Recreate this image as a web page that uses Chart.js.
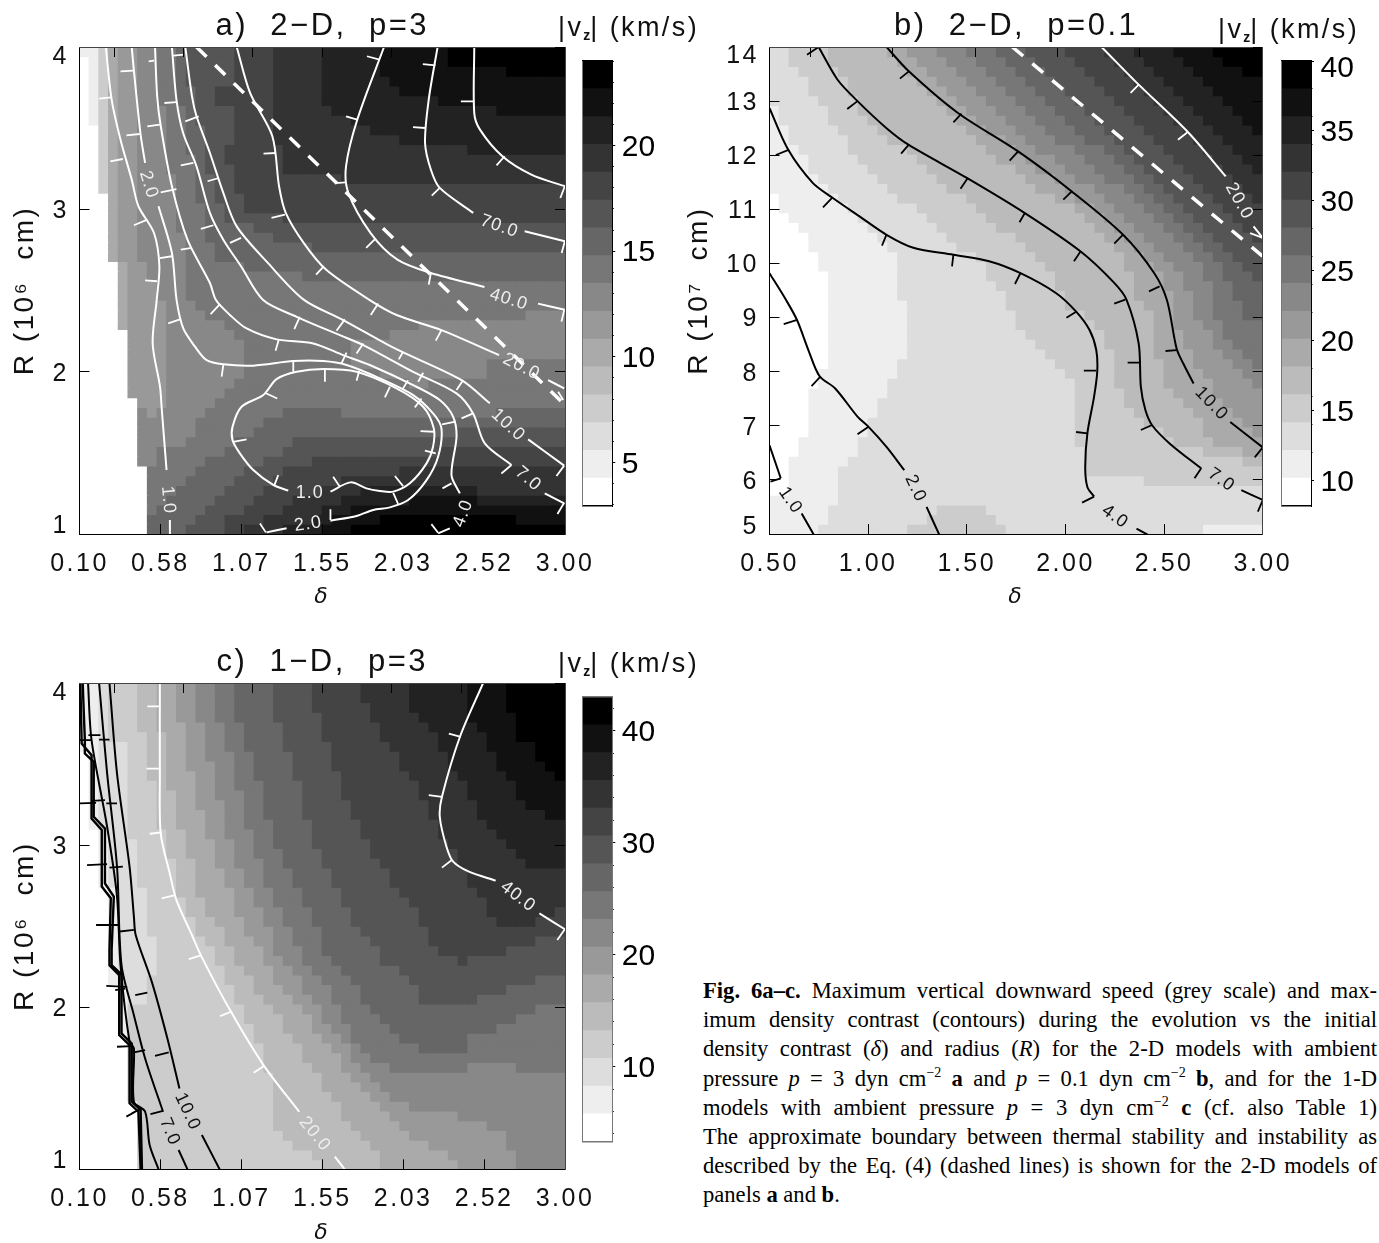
<!DOCTYPE html>
<html>
<head>
<meta charset="utf-8">
<script src="https://cdn.jsdelivr.net/npm/chart.js@4/dist/chart.umd.js"></script>
<style>
html, body { margin: 0; background: #fff; overflow: hidden; width: 1379px; height: 1243px; }
canvas { position: absolute; }
.unit { position: absolute; font: 27px "Liberation Sans"; letter-spacing: 2.4px; color: #111; white-space: pre; }
.unit sub { font-size: 14px; font-weight: bold; vertical-align: -4px; letter-spacing: 0; }
#caption { position: absolute; left: 703px; top: 976px; width: 674px; font: 22.6px/29.2px "Liberation Serif"; color: #000; }
#caption div { text-align: justify; text-align-last: justify; white-space: nowrap; height: 29.2px; }
#caption div:last-child { text-align-last: left; }
#caption sup { font-size: 14px; line-height: 0; vertical-align: 9px; }
</style>
</head>
<body>
<canvas id="panelA" width="625" height="610" style="left:0;top:0"></canvas>
<canvas id="panelB" width="643" height="610" style="left:680px;top:0"></canvas>
<canvas id="panelC" width="625" height="610" style="left:0;top:636px"></canvas>
<canvas id="barA" width="100" height="505" style="left:570px;top:31px"></canvas>
<canvas id="barB" width="109" height="505" style="left:1270px;top:31px"></canvas>
<canvas id="barC" width="100" height="505" style="left:570px;top:667px"></canvas>
<div class="unit" style="left:558px;top:12px">|v<sub>z</sub>| (km/s)</div>
<div class="unit" style="left:1218px;top:14px">|v<sub>z</sub>| (km/s)</div>
<div class="unit" style="left:558px;top:648px">|v<sub>z</sub>| (km/s)</div>
<div id="caption">
<div><b>Fig. 6a–c.</b> Maximum vertical downward speed (grey scale) and max-</div>
<div>imum density contrast (contours) during the evolution vs the initial</div>
<div>density contrast (<i>δ</i>) and radius (<i>R</i>) for the 2-D models with ambient</div>
<div>pressure <i>p</i> = 3 dyn cm<sup>−2</sup> <b>a</b> and <i>p</i> = 0.1 dyn cm<sup>−2</sup> <b>b</b>, and for the 1-D</div>
<div>models with ambient pressure <i>p</i> = 3 dyn cm<sup>−2</sup> <b>c</b> (cf. also Table 1)</div>
<div>The approximate boundary between thermal stability and instability as</div>
<div>described by the Eq. (4) (dashed lines) is shown for the 2-D models of</div>
<div>panels <b>a</b> and <b>b</b>.</div>
</div>
<script>
// grey level of every band, white (slowest) to black (fastest)
const levelGreys = [255, 238, 221, 204, 187, 170, 153, 136, 119, 102, 85, 68, 51, 34, 17, 0];

const edgesA = [2.94, 4.26, 5.57, 6.89, 8.2, 9.52, 10.84, 12.15, 13.47, 14.79, 16.1, 17.42, 18.74, 20.05, 21.37, 22.69, 24.0];
const edgesB = [8.2, 10.19, 12.18, 14.16, 16.15, 18.14, 20.13, 22.11, 24.1, 26.09, 28.08, 30.06, 32.05, 34.04, 36.03, 38.01, 40.0];
const edgesC = [3.3, 5.78, 8.26, 10.74, 13.22, 15.71, 18.19, 20.67, 23.15, 25.63, 28.11, 30.59, 33.07, 35.56, 38.04, 40.52, 43.0];
const majorsA = [5, 10, 15, 20];
const majorsB = [10, 15, 20, 25, 30, 35, 40];
const majorsC = [10, 20, 30, 40];
const minorsA = [3, 4, 5, 6, 7, 8, 9, 10, 11, 12, 13, 14, 15, 16, 17, 18, 19, 20, 21, 22, 23, 24];
const minorsB = [10, 12, 14, 16, 18, 20, 22, 24, 26, 28, 30, 32, 34, 36, 38, 40];
const minorsC = [4, 6, 8, 10, 12, 14, 16, 18, 20, 22, 24, 26, 28, 30, 32, 34, 36, 38, 40, 42];

const xTicksA = [0.1, 0.583, 1.067, 1.55, 2.033, 2.517, 3.0];
const xTicksB = [0.5, 1.0, 1.5, 2.0, 2.5, 3.0];
const yTicksA = [1, 2, 3, 4];
const yTicksB = [5, 6, 7, 8, 9, 10, 11, 12, 13, 14];

// speed bands per grid row, top row first: start column, band, start column, band...
const runsA = [
[0,1,2,3,3,5,4,6,6,7,8,8,10,9,11,10,16,11,20,12,25,13,31,14,38,15],
[1,1,2,3,3,5,4,6,6,7,8,8,10,9,11,10,16,11,20,12,25,13,31,14,38,15],
[1,1,2,3,3,5,4,6,6,7,8,8,10,9,11,10,16,11,20,12,25,13,31,14,44,15],
[1,1,2,3,3,5,4,6,6,7,8,8,10,9,11,10,16,11,20,12,25,13,32,14],
[1,1,2,3,3,5,4,6,6,7,8,8,10,9,12,10,14,11,20,12,25,13,33,14],
[1,1,2,3,3,5,4,6,6,7,8,8,10,9,12,10,14,11,20,12,25,13,37,14],
[1,1,2,3,3,5,4,6,6,7,9,8,11,9,12,10,16,11,20,12,26,13,43,14],
[1,1,2,3,3,5,4,6,6,7,9,8,11,9,12,10,16,11,20,12,28,13],
[2,3,3,5,4,6,6,7,9,8,11,9,13,10,16,11,20,12,30,13],
[2,3,3,5,4,6,6,7,9,8,11,9,13,10,16,11,20,12,33,13],
[2,3,3,5,4,6,6,7,9,8,11,9,13,10,15,11,21,12,40,13],
[2,3,3,5,4,6,6,7,9,8,12,9,13,10,15,11,21,12],
[2,3,3,5,4,6,6,7,9,8,12,9,13,10,16,11,21,12],
[2,3,3,5,4,6,6,7,10,8,12,9,14,10,16,11,27,12],
[2,3,3,5,4,6,6,7,10,8,12,9,14,10,16,11],
[3,5,4,6,6,7,10,8,12,9,14,10,17,11],
[3,5,4,6,6,7,10,8,13,9,15,10,17,11],
[3,5,4,6,6,7,10,8,13,9,15,10,21,11],
[3,5,4,6,6,7,10,8,13,9,18,10],
[3,5,4,6,6,7,11,8,13,9,20,10],
[3,5,4,6,6,7,11,8,14,9,24,10],
[3,5,4,6,6,7,11,8,14,9],
[4,5,5,6,7,7,11,8,17,9],
[4,5,5,6,7,7,11,8,23,9],
[4,5,5,6,8,7,11,8],
[4,5,5,6,8,7,11,8],
[4,5,5,6,9,7,12,8],
[4,5,5,6,9,7,13,8,46,7],
[4,5,5,6,9,7,15,8,35,7],
[5,6,9,7,16,8,32,7],
[5,6,9,7,17,8,28,7],
[5,6,9,7,17,8,28,7],
[5,6,9,7,17,8,28,7,42,8],
[5,6,9,7,17,8,31,7,42,8],
[5,6,9,7,16,8,34,7,36,8],
[5,6,9,7,15,8],
[6,6,9,7,14,8],
[6,7,7,6,8,7,13,8,21,9,27,8,43,9],
[6,7,12,8,19,9],
[6,7,12,8,18,9,39,10],
[6,7,11,8,16,9,22,10],
[6,7,8,8,15,9,21,10,37,11],
[6,7,8,8,13,9,19,10,24,11],
[7,8,12,9,17,10,21,11,33,12],
[7,8,11,9,16,10,20,11,27,12],
[7,8,10,9,15,10,19,11,25,12,29,13,41,12],
[7,8,9,9,14,10,18,11,22,12,27,13,34,14,41,13],
[7,8,8,9,13,10,17,11,21,12,25,13,28,14],
[7,9,12,10,15,11,19,12,24,13,26,14,31,15,45,14],
[7,9,11,10,15,11,17,12,21,13,25,14,28,15]
];

const runsB = [
[0,2,2,3,6,4,12,5,14,6,17,7,20,8,23,9,26,10,30,11,34,12,37,13,41,14,45,15],
[0,2,2,3,6,4,13,5,15,6,18,7,21,8,24,9,27,10,31,11,35,12,38,13,42,14,46,15],
[0,2,3,3,7,4,14,5,16,6,19,7,22,8,25,9,28,10,32,11,36,12,39,13,43,14,48,15],
[0,2,4,3,8,4,15,5,17,6,20,7,23,8,26,9,29,10,33,11,37,12,40,13,44,14],
[0,2,4,3,8,4,16,5,18,6,21,7,24,8,27,9,30,10,34,11,38,12,41,13,45,14],
[0,2,5,3,9,4,17,5,19,6,22,7,25,8,28,9,31,10,35,11,39,12,42,13,46,14],
[0,1,1,2,6,3,9,4,18,5,20,6,23,7,26,8,29,9,32,10,36,11,40,12,43,13,47,14],
[0,1,1,2,6,3,10,4,19,5,21,6,24,7,27,8,30,9,33,10,37,11,41,12,44,13,48,14],
[0,1,2,2,7,3,11,4,20,5,22,6,25,7,28,8,31,9,34,10,38,11,42,12,45,13,49,14],
[0,1,2,2,8,3,12,4,21,5,24,6,26,7,29,8,32,9,35,10,39,11,43,12,46,13],
[0,1,3,2,8,3,14,4,22,5,25,6,27,7,31,8,34,9,36,10,40,11,44,12,47,13],
[0,1,4,2,9,3,15,4,23,5,26,6,29,7,32,8,35,9,37,10,41,11,45,12,48,13],
[0,1,4,2,10,3,16,4,25,5,27,6,30,7,33,8,36,9,38,10,42,11,46,12,49,13],
[0,1,5,2,11,3,17,4,26,5,29,6,31,7,34,8,37,9,39,10,43,11,47,12],
[0,1,6,2,12,3,18,4,27,5,30,6,33,7,36,8,38,9,40,10,44,11,48,12],
[0,0,1,1,7,2,13,3,20,4,29,5,31,6,34,7,37,8,39,9,41,10,45,11,49,12],
[0,0,1,1,8,2,15,3,21,4,31,5,33,6,35,7,38,8,40,9,42,10,46,11],
[0,0,2,1,9,2,16,3,22,4,32,5,34,6,36,7,39,8,41,9,43,10,47,11],
[0,0,3,1,10,2,17,3,23,4,33,5,35,6,37,7,40,8,42,9,44,10,48,11],
[0,0,4,1,11,2,18,3,25,4,34,5,36,6,38,7,41,8,43,9,45,10,49,11],
[0,0,4,1,12,2,19,3,26,4,35,5,37,6,39,7,42,8,44,9,46,10],
[0,0,5,1,13,2,21,3,27,4,36,5,38,6,40,7,43,8,45,9,47,10],
[0,0,5,1,13,2,22,3,28,4,36,5,39,6,41,7,44,8,46,9,48,10],
[0,0,6,1,13,2,22,3,29,4,37,5,40,6,42,7,44,8,46,9,49,10],
[0,0,6,1,13,2,23,3,29,4,37,5,40,6,42,7,45,8,47,9],
[0,0,6,1,13,2,24,3,30,4,37,5,41,6,43,7,45,8,47,9],
[0,0,6,1,14,2,24,3,30,4,38,5,41,6,43,7,45,8,48,9],
[0,0,6,1,14,2,25,3,32,4,39,5,41,6,43,7,45,8,48,9],
[0,0,6,1,14,2,25,3,33,4,39,5,41,6,44,7,46,8],
[0,0,6,1,14,2,26,3,34,4,39,5,42,6,45,7,46,8],
[0,0,6,1,14,2,27,3,34,4,39,5,42,6,45,7,47,8],
[0,0,6,1,14,2,28,3,35,4,39,5,43,6,46,7,48,8],
[0,0,6,1,13,2,29,3,35,4,40,5,43,6,47,7,49,8],
[0,0,5,1,13,2,30,3,35,4,40,5,44,6,48,7],
[0,0,5,1,12,2,31,3,35,4,40,5,45,6,49,7],
[0,0,4,1,12,2,31,3,36,4,41,5,45,6],
[0,0,4,1,11,2,31,3,36,4,42,5,46,6],
[0,0,4,1,11,2,31,3,37,4,43,5,47,6],
[0,0,4,1,10,2,31,3,38,4,44,5,48,6],
[0,0,4,1,10,2,31,3,40,4,44,5,49,6],
[0,0,3,1,9,2,31,3,41,4,45,5],
[0,0,3,1,9,2,32,3,44,4,48,5],
[0,0,2,1,8,2,32,3,48,4],
[0,0,2,1,7,2,32,3],
[0,0,2,1,7,2,38,3],
[0,0,2,1,7,2],
[0,1,7,2],
[0,1,6,2,17,3,22,2],
[0,1,6,2,16,3,23,2],
[0,1,5,2,14,3,24,2,44,1]
];

const runsC = [
[0,1,2,2,3,3,6,4,8,5,10,6,12,7,14,8,16,9,20,10,24,11,29,12,34,13,40,14,44,15],
[0,1,2,2,3,3,6,4,8,5,10,6,12,7,14,8,16,9,20,10,24,11,29,12,34,13,40,14,44,15],
[0,1,2,2,3,3,6,4,8,5,10,6,12,7,14,8,16,9,20,10,24,11,30,12,34,13,40,14,44,15],
[0,1,2,2,3,3,6,4,8,5,10,6,12,7,14,8,16,9,20,10,25,11,30,12,35,13,40,14,45,15],
[0,1,2,2,3,3,6,4,8,5,11,6,13,7,15,8,17,9,21,10,25,11,31,12,36,13,41,14,45,15],
[0,1,2,2,3,3,7,4,9,5,11,6,13,7,15,8,17,9,21,10,25,11,31,12,37,13,42,14,45,15],
[0,1,2,2,5,3,7,4,9,5,11,6,13,7,15,8,17,9,21,10,26,11,32,12,37,13,42,14,47,15],
[0,0,1,1,2,2,5,3,7,4,9,5,11,6,13,7,16,8,18,9,22,10,26,11,33,12,38,13,43,14,47,15],
[0,0,1,1,2,2,5,3,7,4,9,5,11,6,14,7,16,8,18,9,22,10,26,11,33,12,38,13,43,14,48,15],
[0,0,1,1,2,2,5,3,7,4,9,5,12,6,14,7,16,8,18,9,22,10,27,11,34,12,39,13,44,14,49,15],
[0,0,1,1,2,2,5,3,8,4,9,5,12,6,14,7,16,8,19,9,23,10,27,11,35,12,40,13,45,14],
[0,0,1,1,2,2,5,3,8,4,10,5,12,6,14,7,17,8,19,9,23,10,27,11,35,12,40,13,45,14],
[0,0,1,1,2,2,5,3,8,4,10,5,12,6,15,7,17,8,19,9,23,10,28,11,36,12,41,13,46,14],
[0,0,1,1,2,2,5,3,8,4,10,5,13,6,15,7,17,8,19,9,23,10,28,11,36,12,41,13,48,14],
[0,0,1,1,2,2,5,3,8,4,10,5,13,6,15,7,17,8,20,9,24,10,29,11,37,12,42,13],
[0,0,2,1,3,2,5,3,9,4,11,5,13,6,15,7,18,8,20,9,24,10,29,11,37,12,43,13],
[0,0,2,1,3,2,6,3,9,4,11,5,14,6,16,7,18,8,20,9,24,10,30,11,38,12,44,13],
[0,0,2,1,3,2,6,3,9,4,11,5,14,6,16,7,18,8,21,9,25,10,30,11,39,12,45,13],
[0,0,2,1,3,2,6,3,10,4,12,5,14,6,16,7,19,8,21,9,25,10,31,11,39,12,46,13],
[0,0,2,1,3,2,6,3,10,4,12,5,15,6,17,7,19,8,22,9,26,10,32,11,40,12],
[0,0,2,1,3,2,6,3,10,4,12,5,15,6,17,7,19,8,22,9,26,10,32,11,40,12],
[0,0,3,1,4,2,7,3,10,4,12,5,16,6,18,7,20,8,23,9,27,10,33,11,41,12],
[0,0,3,1,4,2,7,3,11,4,13,5,16,6,18,7,20,8,23,9,27,10,34,11,42,12],
[0,0,3,1,4,2,7,3,11,4,13,5,16,6,19,7,21,8,24,9,28,10,35,11,42,12,49,11],
[0,0,3,1,4,2,7,3,12,4,14,5,17,6,19,7,21,8,24,9,28,10,35,11,43,12,47,11],
[0,0,3,1,4,2,7,3,12,4,15,5,17,6,20,7,22,8,25,9,29,10,36,11],
[0,0,3,1,4,2,8,3,13,4,15,5,18,6,20,7,22,8,25,9,30,10,36,11,47,10],
[0,0,3,1,4,2,8,3,14,4,16,5,19,6,20,7,23,8,25,9,31,10,37,11,44,10],
[0,0,3,1,4,2,8,3,14,4,16,5,19,6,21,7,23,8,26,9,31,10,39,11,40,10],
[0,0,3,1,4,2,8,3,15,4,17,5,20,6,22,7,24,8,27,9,33,10],
[0,0,3,1,4,2,7,3,15,4,18,5,20,6,23,7,25,8,28,9,34,10,47,9],
[0,0,4,1,5,2,7,3,16,4,18,5,21,6,23,7,26,8,29,9,35,10,44,9],
[0,0,4,1,5,2,7,3,16,4,19,5,22,6,24,7,26,8,29,9,35,10,41,9],
[0,0,4,1,5,3,17,4,20,5,23,6,25,7,27,8,30,9,47,8],
[0,0,4,1,5,3,17,4,21,5,24,6,25,7,27,8,31,9,45,8],
[0,0,4,1,5,3,18,4,21,5,24,6,26,7,28,8,32,9,43,8],
[0,0,5,3,18,4,22,5,25,6,27,7,28,8,33,9,40,8],
[0,0,5,3,19,4,23,5,26,6,28,7,29,8,35,9,40,8],
[0,0,5,3,19,4,23,5,27,6,28,7,30,8],
[0,0,5,3,19,4,24,5,27,6,29,7,32,8,40,7,45,8],
[0,0,5,3,20,4,25,5,28,6,30,7],
[0,0,5,3,20,4,25,5,29,6,31,7],
[0,0,5,3,20,4,26,5,30,6,32,7],
[0,0,6,3,20,4,27,5,31,6,34,7],
[0,0,6,3,20,4,27,5,32,6,39,7],
[0,0,6,3,20,4,28,5,33,6,42,7],
[0,0,6,3,21,4,29,5,34,6,44,7],
[0,0,6,3,22,4,30,5,36,6,44,7],
[0,0,6,3,24,4,31,5,38,6,45,7],
[0,0,6,3,25,4,31,5,39,6,45,7]
];

// density contrast contours: [delta, R], null marks the gap left for a label
const a100 = [[2.458,4],[2.458,3.593],[2.492,3.491],[2.626,3.327],[2.799,3.214],[2.999,3.142]];
const a70 = [[2.239,4],[2.186,3.676],[2.164,3.409],[2.199,3.244],[2.252,3.132],[2.452,2.978],null,[2.759,2.865],[2.999,2.803]];
const a40 = [[1.919,4],[1.759,3.552],[1.692,3.265],[1.706,3.101],[1.839,2.854],[1.999,2.69],[2.199,2.608],[2.519,2.522],null,[2.839,2.419],[2.999,2.382]];
const a20 = [[1.039,4],[1.119,3.717],[1.252,3.45],[1.292,3.142],[1.332,2.978],[1.439,2.793],[1.572,2.629],[1.834,2.441],[1.994,2.349],[2.262,2.256],[2.606,2.102],null,[2.899,1.948],[2.995,1.897]];
const a10 = [[0.732,4],[0.772,3.696],[0.799,3.573],[0.879,3.347],[0.959,3.101],[1.039,2.895],[1.225,2.67],[1.439,2.444],[1.675,2.318],[1.984,2.143],[2.382,1.948],[2.551,1.805],null,[2.78,1.583],[2.995,1.421]];
const a7 = [[0.652,4],[0.679,3.676],[0.719,3.47],[0.799,3.265],[0.879,2.978],[0.959,2.813],[1.065,2.649],[1.197,2.441],[1.397,2.338],[1.655,2.225],[1.795,2.164],[2.093,1.999],[2.352,1.866],[2.451,1.743],[2.521,1.558],[2.68,1.425],null,[2.879,1.25],[2.995,1.189]];
const a4 = [[0.551,4],[0.564,3.696],[0.585,3.515],[0.652,3.142],[0.745,2.813],[0.879,2.546],[0.915,2.441],[0.999,2.349],[1.098,2.266],[1.277,2.199],[1.496,2.174],[1.675,2.102],[1.834,2.041],[2.093,1.917],[2.252,1.825],[2.332,1.722],[2.352,1.599],[2.322,1.363],[2.372,1.25],null,[2.312,1.035],[2.242,1.004]];
const a2 = [[0.412,4],[0.425,3.854],[0.465,3.46],[0.492,3.286],null,[0.572,3.019],[0.652,2.731],[0.68,2.441],[0.72,2.266],[0.79,2.154],[0.859,2.071],[0.959,2.045],[1.138,2.037],[1.377,2.065],[1.556,2.065],[1.695,2.041],[1.894,1.959],[2.093,1.856],[2.212,1.743],[2.262,1.651],[2.242,1.476],[2.173,1.332],[2.063,1.209],[1.954,1.164],[1.854,1.148],[1.755,1.111],[1.599,1.082],null,[1.337,1.035],[1.217,1.01]];
const a1Left = [[0.257,4],[0.292,3.676],[0.345,3.429],[0.412,3.183],[0.452,3.019],[0.545,2.854],[0.577,2.649],[0.561,2.441],[0.537,2.174],[0.581,1.907],[0.591,1.774],[0.62,1.394],null,[0.64,1.086],[0.64,1]];
const a1Loop = [[1.347,1.267],[1.257,1.302],[1.138,1.394],[1.058,1.497],[1.014,1.579],[1.014,1.661],[1.068,1.784],[1.198,1.856],[1.277,1.954],[1.397,1.999],[1.556,2.016],[1.755,1.999],[1.994,1.897],[2.153,1.784],[2.216,1.651],[2.212,1.538],[2.173,1.435],[2.073,1.312],[1.974,1.261],[1.894,1.265],[1.814,1.281],[1.719,1.318],[1.599,1.261]];
const aDashed = [[0.799,4],[2.989,1.805]];

const b20 = [[2.183,14],[2.371,13.304],[2.62,12.429],[2.812,11.61],null,[2.953,10.686],[3,10.47]];
const bDashed = [[1.731,14],[3,10.13]];
const b10 = [[1.093,14],[1.206,13.55],[1.455,12.78],[1.76,12.07],[2.032,11.33],[2.292,10.53],[2.45,9.82],[2.514,9.324],[2.563,8.43],[2.597,8.15],[2.649,7.78],null,[2.835,7.07],[3,6.6]];
const b7 = [[0.749,14],[0.844,13.4],[0.946,13],[1.093,12.5],[1.206,12.19],[1.5,11.58],[1.794,10.93],[2.077,10.22],[2.247,9.64],[2.31,9.324],[2.371,8.52],[2.382,7.72],[2.405,7.29],[2.439,7.01],[2.529,6.67],[2.688,6.21],null,[2.891,5.81],[3,5.63]];
const b4 = [[0.5,12.87],[0.595,12.1],[0.719,11.49],[0.821,11.21],[0.956,10.87],[1.093,10.53],[1.229,10.29],[1.432,10.16],[1.613,10.04],[1.772,9.82],[1.953,9.45],[2.054,9.11],[2.122,8.77],[2.156,8.4],[2.161,8],[2.145,7.54],[2.111,6.86],[2.1,6.24],[2.111,5.87],[2.145,5.69],null,[2.36,5.1],[2.416,4.99]];
const b2 = [[0.5,9.82],[0.584,9.324],[0.64,8.95],[0.697,8.4],[0.753,7.92],[0.833,7.69],[0.946,7.17],[1.002,6.98],[1.093,6.61],[1.183,6.18],null,[1.296,5.5],[1.36,4.99]];
const b1 = [[0.5,6.64],[0.557,6.03],null,[0.663,5.38],[0.724,4.99]];

const c40 = [[2.511,4],[2.372,3.667],[2.265,3.298],[2.252,3.175],[2.292,2.99],[2.332,2.898],[2.426,2.836],[2.586,2.781],null,[2.847,2.579],[2.999,2.481]];
const c20 = [[0.58,4],[0.58,3.442],[0.585,3.072],[0.639,2.826],[0.679,2.661],[0.772,2.444],[0.825,2.32],[0.999,1.982],[1.199,1.643],[1.412,1.355],null,[1.625,1.078],[1.684,1]];
const c10 = [[0.279,4],[0.324,3.442],[0.399,2.867],[0.425,2.559],[0.436,2.444],[0.532,2.156],[0.625,1.807],[0.697,1.499],null,[0.831,1.212],[0.937,1]];
const c7 = [[0.217,4],[0.265,3.442],[0.324,2.867],[0.351,2.259],[0.425,1.951],[0.492,1.684],[0.599,1.355],null,[0.692,1.119],[0.745,1]];
const c4 = [[0.151,4],[0.172,3.647],[0.265,3.113],[0.324,2.682],[0.345,2.259],[0.399,1.786],[0.425,1.746],[0.425,1.417],[0.492,1.355],[0.519,1.15],[0.572,1]];
const c2 = [[0.119,4],[0.132,3.647],[0.132,3.565],[0.185,3.514],[0.185,3.175],[0.252,3.103],[0.252,2.764],[0.305,2.682],[0.292,2.354],[0.292,2.259],[0.351,2.201],[0.351,1.838],[0.412,1.776],[0.412,1.417],[0.465,1.366],[0.473,1]];
const c1 = [[0.105,4],[0.113,3.626],[0.172,3.554],[0.172,3.164],[0.233,3.093],[0.233,2.744],[0.287,2.672],[0.279,2.354],[0.279,2.259],[0.337,2.197],[0.337,1.828],[0.399,1.766],[0.399,1.407],[0.452,1.355],[0.465,1]];

// downhill ticks on the contours: x1, y1, x2, y2
const ticksA = [
[0.292,3.69,0.217,3.682],[0.359,3.31,0.284,3.296],[0.505,2.937,0.425,2.902],[0.652,2.711,0.58,2.7],[0.564,2.557,0.492,2.563],
[0.42,3.854,0.345,3.85],[0.46,3.464,0.38,3.456],[0.679,3.125,0.585,3.105],[0.545,3.916,0.513,3.912],[0.66,3.947,0.724,3.953],
[0.607,3.655,0.679,3.661],[0.505,3.511,0.58,3.522],[0.732,3.542,0.812,3.573],[0.705,3.271,0.78,3.286],[0.865,3.173,0.932,3.193],
[0.825,2.879,0.9,2.902],[0.705,2.752,0.772,2.762],[0.999,2.793,1.065,2.824],[1.273,3.347,1.199,3.343],[1.247,2.947,1.327,2.967],
[1.625,3.162,1.692,3.166],[1.759,3.552,1.692,3.573],[1.865,2.817,1.812,2.762],[1.559,2.649,1.513,2.598],[2.199,2.608,2.186,2.536],
[1.892,3.922,1.817,3.943],[2.226,3.887,2.151,3.895],[2.164,3.501,2.092,3.507],[2.252,3.132,2.204,3.084],[2.458,3.665,2.378,3.665],
[2.639,3.327,2.591,3.271],[2.999,3.142,2.972,3.07],[2.999,2.803,2.98,2.731],
[0.939,2.416,0.883,2.355],[0.7,2.322,0.63,2.297],[1.416,2.338,1.383,2.262],[1.685,2.322,1.635,2.252],[1.884,2.42,1.84,2.349],
[2.262,2.256,2.228,2.191],[1.291,2.199,1.271,2.129],[1.795,2.174,1.755,2.112],[2.033,2.123,2.007,2.076],[1.695,2.117,1.665,2.051],
[2.153,1.993,2.123,1.938],[2.392,1.948,2.352,1.887],[2.063,1.948,2.029,1.891],[0.959,2.041,0.949,1.969],[1.377,2.065,1.377,1.999],
[1.566,2.016,1.566,1.938],[1.771,2.006,1.755,1.944],[1.954,1.907,1.924,1.841],[2.143,1.835,2.103,1.78],[1.207,1.87,1.281,1.835],
[2.451,1.743,2.382,1.712],[2.346,1.692,2.266,1.675],[2.216,1.63,2.137,1.634],[1.018,1.568,1.098,1.583],[2.228,1.497,2.163,1.513],
[2.68,1.425,2.62,1.373],[2.322,1.312,2.268,1.281],[1.287,1.363,1.263,1.298],[1.984,1.357,2.033,1.295],[1.615,1.353,1.655,1.291],
[1.974,1.254,2.003,1.185],[1.599,1.152,1.599,1.086],[1.178,1.065,1.213,1.01],[2.202,1.061,2.242,1.008],[2.995,1.421,2.949,1.357],
[2.995,1.193,2.955,1.123],[2.995,2.379,2.979,2.308],[2.959,1.876,2.989,1.825]
];
const ticksBWhite = [[2.371,13.304,2.33,13.15],[2.62,12.429,2.57,12.287],[3,10.47,2.936,10.56]];
const ticksBBlack = [
[0.749,14,0.69,13.858],[1.206,13.55,1.161,13.415],[0.946,13,0.894,12.854],[1.473,12.768,1.432,12.608],[0.6,12.103,0.532,12.004],
[1.206,12.195,1.167,12.029],[1.76,12.072,1.717,11.899],[1.505,11.579,1.468,11.382],[2.032,11.333,1.989,11.179],[0.817,11.21,0.771,11.037],
[1.794,10.932,1.767,10.76],[1.093,10.532,1.07,10.329],[2.292,10.532,2.247,10.366],[1.432,10.162,1.425,9.947],[2.077,10.224,2.043,10.039],
[1.772,9.823,1.744,9.62],[2.477,9.577,2.423,9.485],[2.303,9.33,2.247,9.257],[2.054,9.108,2.005,8.998],[0.636,8.954,0.572,8.88],
[2.563,8.4,2.507,8.382],[2.378,8.166,2.315,8.166],[2.156,8.018,2.093,8.018],[0.758,7.907,0.713,7.735],[2.439,7.014,2.382,6.922],
[1.002,6.983,0.946,6.842],[2.111,6.86,2.054,6.885],[3,6.601,2.959,6.417],[2.688,6.213,2.654,6.028],[0.557,6.028,0.505,5.967],
[2.145,5.69,2.084,5.579],[3,5.628,2.975,5.412]
];
const ticksCWhite = [
[0.58,3.856,0.505,3.856],[0.58,3.472,0.5,3.472],[0.591,3.078,0.519,3.07],[0.671,2.692,0.591,2.672],[2.378,3.667,2.306,3.688],
[2.265,3.298,2.186,3.308],[2.324,2.908,2.265,2.861],[2.999,2.481,2.954,2.415],[0.825,2.32,0.753,2.296],[1.012,1.975,0.94,1.945],
[1.204,1.639,1.14,1.596]
];
const ticksCBlack = [
[0.279,3.651,0.217,3.651],[0.225,3.678,0.153,3.678],[0.172,3.647,0.1,3.647],[0.324,3.257,0.26,3.257],[0.252,3.277,0.172,3.273],
[0.199,3.261,0.1,3.257],[0.359,2.867,0.279,2.861],[0.265,2.883,0.145,2.877],[0.425,2.477,0.34,2.467],[0.332,2.507,0.199,2.507],
[0.505,2.09,0.433,2.074],[0.385,2.125,0.26,2.132],[0.372,2.115,0.313,2.105],[0.633,1.721,0.551,1.7],[0.492,1.735,0.425,1.721],
[0.412,1.76,0.324,1.756],[0.599,1.36,0.524,1.341],[0.473,1.376,0.412,1.345],[0.452,1.366,0.38,1.325]
];

// contour labels: x, y, text, angle in degrees, colour
const labelsA = [
[0.513,3.152,'2.0',73,'#eee'],[2.607,2.895,'70.0',19,'#eee'],[2.665,2.444,'40.0',17,'#eee'],[2.74,2.03,'20.0',27,'#eee'],
[2.66,1.671,'10.0',43,'#eee'],[2.78,1.339,'7.0',40,'#eee'],[2.392,1.127,'4.0',-70,'#eee'],[1.466,1.061,'2.0',-8,'#eee'],
[1.476,1.25,'1.0',0,'#eee'],[0.63,1.209,'1.0',85,'#eee']
];
const labelsB = [
[2.88,11.15,'20.0',61,'#eee'],[2.74,7.41,'10.0',46,'#111'],[2.79,5.997,'7.0',35,'#111'],[2.251,5.32,'4.0',35,'#111'],
[1.24,5.84,'2.0',65,'#111'],[0.606,5.62,'1.0',55,'#111']
];
const labelsC = [
[2.719,2.682,'40.0',37,'#eee'],[1.505,1.218,'20.0',51,'#eee'],[0.745,1.356,'10.0',65,'#111'],[0.639,1.232,'7.0',67,'#111']
];

function greyOf(level) {
    const g = levelGreys[level];
    return 'rgb(' + g + ',' + g + ',' + g + ')';
}

function expandRuns(run) {
    const levels = new Array(50).fill(0);
    for (let i = 0; i < run.length; i += 2) {
        const end = i + 2 < run.length ? run[i + 2] : 50;
        for (let c = run[i]; c < end; c++) levels[c] = run[i + 1];
    }
    return levels;
}

function toPoints(list) {
    return list.map(p => p ? {x: p[0], y: p[1]} : {x: NaN, y: NaN});
}

function tickPoints(list) {
    const pts = [];
    list.forEach(t => pts.push({x: t[0], y: t[1]}, {x: t[2], y: t[3]}, {x: NaN, y: NaN}));
    return pts;
}

// y tick labels sit a few pixels off their ticks, most of all at the ends
function nudgeLabels(scale, nudge, other) {
    const items = scale.getLabelItems();
    items.forEach((item, i) => {
        const off = nudge[scale.ticks[i].value];
        item.options.translation[1] += off !== undefined ? off : other;
    });
}

function buildPanel(id, p) {
    const rowH = (p.yMax - p.yMin) / 50;
    const colW = (p.xMax - p.xMin) / 50;
    const datasets = [];

    p.runs.forEach((run, r) => {
        const levels = expandRuns(run);
        datasets.push({
            type: 'bar',
            data: levels.map((l, c) => ({
                x: p.xMin + (c + 0.5) * colW,
                y: [p.yMax - (r + 1) * rowH, p.yMax - r * rowH]
            })),
            backgroundColor: levels.map(greyOf),
            grouped: false,
            barPercentage: 1,
            categoryPercentage: 1,
            borderWidth: 0,
            inflateAmount: 0.6,
            order: 5
        });
    });

    p.lines.forEach(l => {
        datasets.push({
            type: 'line',
            data: toPoints(l.pts),
            borderColor: l.color,
            borderWidth: l.width || 2,
            borderDash: l.dash || [],
            pointRadius: 0,
            tension: l.tension === undefined ? 0.3 : l.tension,
            order: 1
        });
    });
    p.ticks.forEach(t => {
        datasets.push({
            type: 'line',
            data: tickPoints(t.list),
            borderColor: t.color,
            borderWidth: 1.8,
            pointRadius: 0,
            tension: 0,
            order: 1
        });
    });

    const tickFont = {family: 'Liberation Sans', size: 25};
    const setTicks = values => scale => { scale.ticks = values.map(v => ({value: v})); };
    const boxGrid = {drawOnChartArea: false, tickLength: -10, color: '#000', z: 1, offset: false};
    const boxBorder = {color: '#000', z: 1};

    const extras = {
        id: 'panelExtras',
        beforeDraw(chart) {
            chart.ctx.letterSpacing = '2.5px';
            nudgeLabels(chart.scales.y, p.nudge, 2);
        },
        afterDatasetsDraw(chart) {
            const ctx = chart.ctx;
            ctx.save();
            ctx.font = '18px "Liberation Sans"';
            ctx.letterSpacing = '1px';
            ctx.textAlign = 'center';
            ctx.textBaseline = 'middle';
            p.labels.forEach(l => {
                ctx.save();
                ctx.translate(chart.scales.x.getPixelForValue(l[0]), chart.scales.y.getPixelForValue(l[1]));
                ctx.rotate(l[3] * Math.PI / 180);
                ctx.fillStyle = l[4];
                ctx.fillText(l[2], 0, 0);
                ctx.restore();
            });
            ctx.restore();
        }
    };

    return new Chart(document.getElementById(id), {
        type: 'bar',
        data: {datasets: datasets},
        plugins: [extras],
        options: {
            responsive: false,
            animation: false,
            events: [],
            layout: {padding: {left: 0, top: 0, bottom: 0, right: p.padRight}},
            plugins: {
                legend: {display: false},
                tooltip: {enabled: false},
                title: {
                    display: true,
                    text: p.title,
                    fullSize: false,
                    color: '#111',
                    font: {family: 'Liberation Sans', size: 31, weight: 'normal'},
                    padding: {top: 8, bottom: 1.8}
                }
            },
            scales: {
                x: {
                    type: 'linear',
                    position: 'bottom',
                    min: p.xMin,
                    max: p.xMax,
                    offset: false,
                    afterBuildTicks: setTicks(p.xTicks),
                    afterFit: s => { s.height = p.xAxisHeight; },
                    ticks: {
                        font: tickFont,
                        color: '#111',
                        padding: 25,
                        maxRotation: 0,
                        autoSkip: false,
                        callback: v => v.toFixed(2)
                    },
                    grid: boxGrid,
                    border: boxBorder,
                    title: {display: true, text: 'δ', color: '#111', font: {family: 'DejaVu Sans', size: 22, style: 'italic'}, padding: 0}
                },
                y: {
                    type: 'linear',
                    position: 'left',
                    min: p.yMin,
                    max: p.yMax,
                    afterBuildTicks: setTicks(p.yTicks),
                    afterFit: s => { s.width = p.yAxisWidth; },
                    ticks: {
                        font: tickFont,
                        color: '#111',
                        padding: 20.5,
                        autoSkip: false,
                        callback: v => String(v)
                    },
                    grid: boxGrid,
                    border: boxBorder,
                    title: {display: true, text: p.yTitle, color: '#111', font: {family: 'Liberation Sans', size: 28}, padding: {top: p.yTitlePad, bottom: 0}}
                },
                xTop: {
                    type: 'linear',
                    position: 'top',
                    min: p.xMin,
                    max: p.xMax,
                    afterBuildTicks: setTicks(p.xTicks),
                    afterFit: s => { s.height = 0; },
                    ticks: {display: false},
                    grid: boxGrid,
                    border: {color: '#444', z: 1}
                },
                yRight: {
                    type: 'linear',
                    position: 'right',
                    min: p.yMin,
                    max: p.yMax,
                    afterBuildTicks: setTicks(p.yTicks),
                    afterFit: s => { s.width = 0; },
                    ticks: {display: false},
                    grid: boxGrid,
                    border: {color: '#444', z: 1}
                }
            }
        }
    });
}

function buildBar(id, b) {
    const datasets = levelGreys.map((g, i) => ({
        data: [[b.edges[i], b.edges[i + 1]]],
        backgroundColor: greyOf(i),
        grouped: false,
        barPercentage: 1,
        categoryPercentage: 1,
        borderWidth: 0,
        inflateAmount: 0.4
    }));
    const setTicks = values => scale => { scale.ticks = values.map(v => ({value: v})); };
    const yMin = b.edges[0];
    const yMax = b.edges[b.edges.length - 1];
    const extras = {
        id: 'barExtras',
        beforeDraw(chart) { nudgeLabels(chart.scales.y, b.nudge, 2); }
    };
    return new Chart(document.getElementById(id), {
        type: 'bar',
        data: {labels: ['v'], datasets: datasets},
        plugins: [extras],
        options: {
            responsive: false,
            animation: false,
            events: [],
            layout: {padding: {left: b.padLeft, top: 30, bottom: b.padBottom, right: 0}},
            plugins: {legend: {display: false}, tooltip: {enabled: false}},
            scales: {
                x: {
                    type: 'category',
                    position: 'bottom',
                    afterFit: s => { s.height = 0; },
                    ticks: {display: false},
                    grid: {display: false},
                    border: {color: b.frame, z: 1, width: 1.5}
                },
                xTop: {
                    type: 'category',
                    labels: ['v'],
                    position: 'top',
                    afterFit: s => { s.height = 0; },
                    ticks: {display: false},
                    grid: {display: false},
                    border: {color: b.frame, z: 1, width: 1.5}
                },
                y: {
                    type: 'linear',
                    position: 'right',
                    min: yMin,
                    max: yMax,
                    weight: 0,
                    afterBuildTicks: setTicks(b.majors),
                    afterFit: s => { s.width = b.axisWidth; },
                    ticks: {
                        font: {family: 'Liberation Sans', size: 30},
                        color: '#000',
                        padding: 6.5,
                        autoSkip: false,
                        callback: v => String(v)
                    },
                    grid: {drawOnChartArea: false, tickLength: 3, color: '#000', z: 1},
                    border: {color: b.frame, z: 1}
                },
                yMinor: {
                    type: 'linear',
                    position: 'right',
                    min: yMin,
                    max: yMax,
                    weight: -1,
                    afterBuildTicks: setTicks(b.minors),
                    afterFit: s => { s.width = 0; },
                    ticks: {display: false},
                    grid: {drawOnChartArea: false, tickLength: 1.5, color: '#000', z: 1},
                    border: {color: b.frame, z: 1}
                },
                yLeft: {
                    type: 'linear',
                    position: 'left',
                    min: yMin,
                    max: yMax,
                    afterFit: s => { s.width = 0; },
                    ticks: {display: false},
                    grid: {display: false},
                    border: {color: '#777', z: 1}
                }
            }
        }
    });
}

buildPanel('panelA', {
    runs: runsA, xMin: 0.1, xMax: 3, yMin: 1, yMax: 4,
    xTicks: xTicksA, yTicks: yTicksA, title: 'a)  2−D,  p=3', yTitle: 'R (10⁶  cm)',
    xAxisHeight: 76, yAxisWidth: 79.5, yTitlePad: 8, padRight: 60,
    nudge: {4: 10, 1: -8},
    labels: labelsA,
    ticks: [{list: ticksA, color: '#fff'}],
    lines: [
        {pts: a100, color: '#fff'}, {pts: a70, color: '#fff'}, {pts: a40, color: '#fff'}, {pts: a20, color: '#fff'},
        {pts: a10, color: '#fff'}, {pts: a7, color: '#fff'}, {pts: a4, color: '#fff'}, {pts: a2, color: '#fff'},
        {pts: a1Left, color: '#fff'}, {pts: a1Loop, color: '#fff'},
        {pts: aDashed, color: '#fff', width: 3.5, dash: [14, 12], tension: 0}
    ]
});

buildPanel('panelB', {
    runs: runsB, xMin: 0.5, xMax: 3, yMin: 5, yMax: 14,
    xTicks: xTicksB, yTicks: yTicksB, title: 'b)  2−D,  p=0.1', yTitle: 'R (10⁷  cm)',
    xAxisHeight: 76, yAxisWidth: 89.5, yTitlePad: 2, padRight: 60.2,
    nudge: {14: 9.5, 5: -7},
    labels: labelsB,
    ticks: [{list: ticksBBlack, color: '#000'}, {list: ticksBWhite, color: '#fff'}],
    lines: [
        {pts: b20, color: '#fff'}, {pts: b10, color: '#000'}, {pts: b7, color: '#000'},
        {pts: b4, color: '#000'}, {pts: b2, color: '#000'}, {pts: b1, color: '#000'},
        {pts: bDashed, color: '#fff', width: 3.5, dash: [14, 12], tension: 0}
    ]
});

buildPanel('panelC', {
    runs: runsC, xMin: 0.1, xMax: 3, yMin: 1, yMax: 4,
    xTicks: xTicksA, yTicks: yTicksA, title: 'c)  1−D,  p=3', yTitle: 'R (10⁶  cm)',
    xAxisHeight: 76.7, yAxisWidth: 79.5, yTitlePad: 8, padRight: 60,
    nudge: {4: 10, 1: -8},
    labels: labelsC,
    ticks: [{list: ticksCWhite, color: '#fff'}, {list: ticksCBlack, color: '#000'}],
    lines: [
        {pts: c40, color: '#fff'}, {pts: c20, color: '#fff'}, {pts: c10, color: '#000'}, {pts: c7, color: '#000'},
        {pts: c4, color: '#000'}, {pts: c2, color: '#000', width: 2.4, tension: 0}, {pts: c1, color: '#000', width: 2.4, tension: 0}
    ]
});

buildBar('barA', {edges: edgesA, majors: majorsA, minors: minorsA, padLeft: 12.7, axisWidth: 57.7, padBottom: 30, frame: '#000', nudge: {}});
buildBar('barB', {edges: edgesB, majors: majorsB, minors: minorsB, padLeft: 11.5, axisWidth: 68, padBottom: 30, frame: '#000', nudge: {40: 8}});
buildBar('barC', {edges: edgesC, majors: majorsC, minors: minorsC, padLeft: 12.7, axisWidth: 57.7, padBottom: 30.3, frame: '#777', nudge: {}});
</script>
</body>
</html>
